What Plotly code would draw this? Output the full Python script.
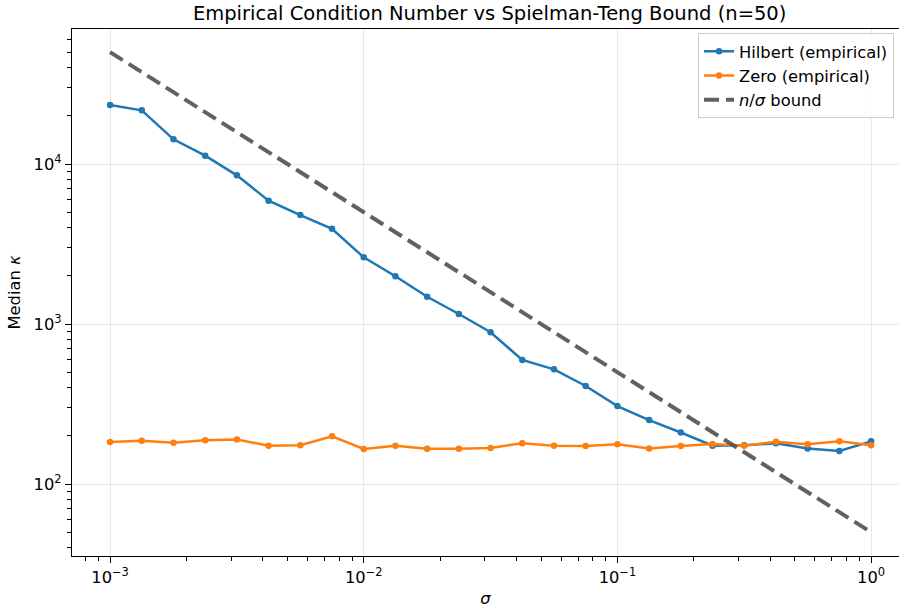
import numpy as np
import plotly.graph_objects as go

# Data
sigma = list(np.logspace(-3, 0, 25))
n = 50
hilbert = [23400, 21650, 14270, 11270, 8500, 5900, 4800, 3940, 2610,
           1990, 1480, 1155, 888, 596, 521, 410, 307, 251,
           210, 173.5, 175, 179.6, 167, 160.8, 184.8]
zero = [183, 186.6, 181, 187.5, 190, 173.5, 175, 198.8, 165.5,
        173.5, 166, 166, 168, 180, 173.5, 173, 177, 167,
        172.8, 178, 173.5, 183.7, 177, 184.8, 174.5]
bound = [n / s for s in sigma]

x_tickvals = [1e-3, 1e-2, 1e-1, 1]
x_ticktext = ["10<sup>\u22123</sup>", "10<sup>\u22122</sup>", "10<sup>\u22121</sup>", "10<sup>0</sup>"]
y_tickvals = [1e2, 1e3, 1e4]
y_ticktext = ["10<sup>2</sup>", "10<sup>3</sup>", "10<sup>4</sup>"]

FONT = "DejaVu Sans"
FS = 16.3

fig = go.Figure()
fig.add_trace(go.Scatter(x=sigma, y=hilbert, mode="lines+markers", name="Hilbert (empirical)",
                         line=dict(color="#1f77b4", width=2.5), marker=dict(size=6.5, color="#1f77b4")))
fig.add_trace(go.Scatter(x=sigma, y=zero, mode="lines+markers", name="Zero (empirical)",
                         line=dict(color="#ff7f0e", width=2.5), marker=dict(size=6.5, color="#ff7f0e")))
fig.add_trace(go.Scatter(x=sigma, y=bound, mode="lines", name="<i>n</i>/<i>σ</i> bound",
                         line=dict(color="rgba(80,80,80,0.9)", width=4, dash="15px,7px")))

minor_x = [m * 10.0 ** e for e in range(-4, 1) for m in range(2, 10)]
minor_y = [m * 10.0 ** e for e in range(1, 5) for m in range(2, 10)]

common = dict(ticks="outside", ticklen=6, tickwidth=1.3, tickcolor="black",
              showline=True, linecolor="black", linewidth=1.3, mirror=True,
              showgrid=True, gridcolor="#e8e8e8", gridwidth=1.3, zeroline=False,
              automargin=False,
              tickfont=dict(family=FONT, size=FS, color="black"))

fig.update_xaxes(type="log", range=[-3.15, 0.11],
                 tickvals=x_tickvals, ticktext=x_ticktext,
                 minor=dict(tickvals=minor_x, ticks="outside", ticklen=3.5, tickwidth=1, tickcolor="black", showgrid=False),
                 title=dict(text="<i>σ</i>", font=dict(family=FONT, size=FS, color="black"), standoff=6),
                 **common)
fig.update_yaxes(type="log", range=[np.log10(35.5), np.log10(69800)],
                 tickvals=y_tickvals, ticktext=y_ticktext,
                 minor=dict(tickvals=minor_y, ticks="outside", ticklen=3.5, tickwidth=1, tickcolor="black", showgrid=False),
                 title=dict(text="Median <i>κ</i>", font=dict(family=FONT, size=FS, color="black"), standoff=8),
                 **common)

fig.update_layout(
    width=899, height=609,
    margin=dict(l=72, r=0, t=29, b=53, autoexpand=False),
    paper_bgcolor="white", plot_bgcolor="white",
    font=dict(family=FONT, size=FS, color="black"),
    title=dict(text="Empirical Condition Number vs Spielman-Teng Bound (n=50)",
               x=0.505, xref="paper", xanchor="center",
               y=1 - 13 / 609, yref="container", yanchor="middle",
               font=dict(family=FONT, size=19.5, color="black")),
    legend=dict(x=0.757, y=0.992, xanchor="left", yanchor="top",
                bgcolor="rgba(255,255,255,0.85)", bordercolor="#cccccc", borderwidth=1,
                font=dict(family=FONT, size=FS, color="black"), itemwidth=30,
                tracegroupgap=0),
    showlegend=True,
)

fig.write_html("out.html", config={"displayModeBar": False},
               post_script="document.body.style.margin='0';")
